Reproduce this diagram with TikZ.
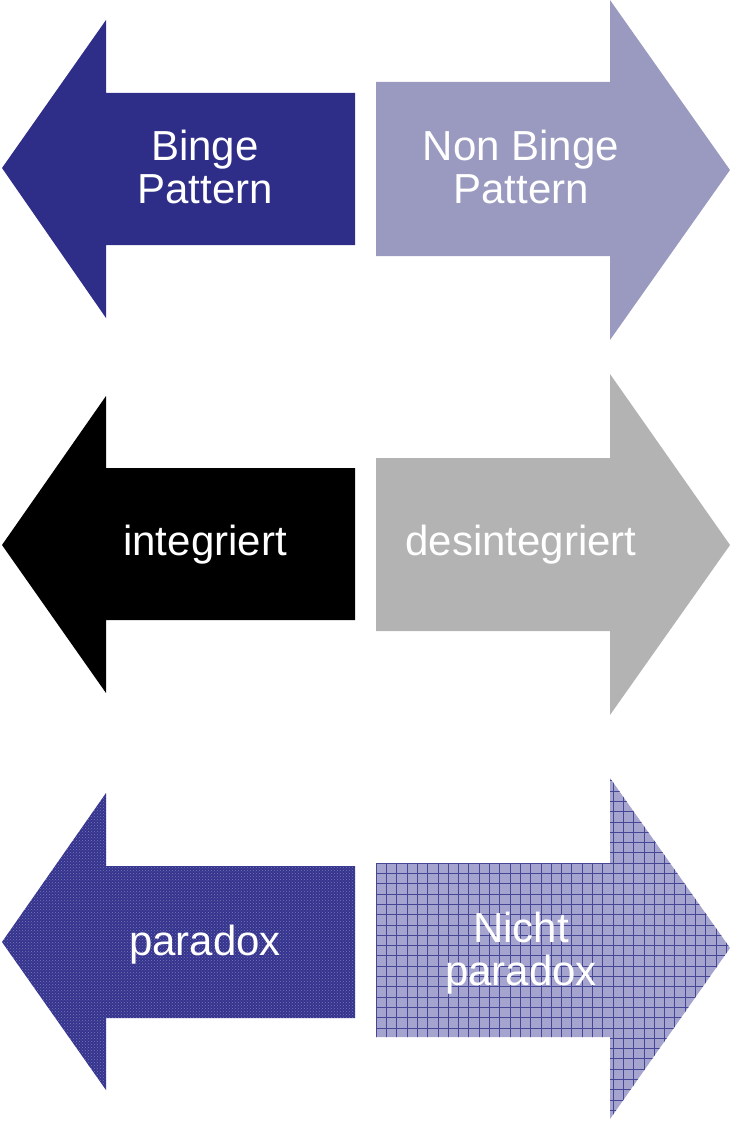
\documentclass[tikz,border=0pt]{standalone}
\usepackage{fontspec}
\setmainfont{Liberation Sans}
\usetikzlibrary{patterns}
\definecolor{navy}{RGB}{46,45,136}
\definecolor{lavender}{RGB}{154,154,192}
\definecolor{midgray}{RGB}{179,179,179}
\definecolor{navydot}{RGB}{52,51,142}
\definecolor{speck}{RGB}{120,120,180}
\definecolor{gridfill}{RGB}{164,164,206}
\definecolor{gridline}{RGB}{70,70,150}
\tikzset{
  label/.style={text=white, align=center, font=\fontsize{42}{43}\selectfont, inner sep=0pt},
}
% left-pointing arrow: tip y, head top, head bottom, shaft top, shaft bottom
\newcommand\leftarrowshape[5]{(2,#1) -- (106,#2) -- (106,#4) -- (355,#4) -- (355,#5) -- (106,#5) -- (106,#3) -- cycle}
\newcommand\rightarrowshape[5]{(730,#1) -- (610,#2) -- (610,#4) -- (376,#4) -- (376,#5) -- (610,#5) -- (610,#3) -- cycle}
\begin{document}
\begin{tikzpicture}[x=1pt,y=-1pt]
\useasboundingbox (0,0) rectangle (732,1121);
% first row
\fill[navy] \leftarrowshape{168}{20}{318}{93}{245};
\fill[lavender] \rightarrowshape{170}{0}{340}{82}{256};
\node[label] (binge) at (205,167) {Binge\\Pattern};
\node[label] (nonbinge) at (521,167) {Non Binge\\Pattern};
% second row
\fill[black] \leftarrowshape{545}{396}{693}{468}{620};
\fill[midgray] \rightarrowshape{545}{374}{715}{458}{631};
\node[label] (integ) at (205,545) {integriert};
\node[label] (desinteg) at (521,545) {desintegriert};
% third row
\fill[navydot] \leftarrowshape{942}{793}{1090}{866}{1018};
\path[pattern=crosshatch dots, pattern color=speck] \leftarrowshape{942}{793}{1090}{866}{1018};
\begin{scope}
  \clip \rightarrowshape{948}{778}{1119}{863}{1037};
  \fill[gridfill] (370,770) rectangle (732,1121);
  \draw[gridline, line width=0.5pt, step=10.3pt, shift={(376,863)}] (-10,-100) grid (370,270);
\end{scope}
\node[label] (parad) at (205,945) {paradox};
\node[label] (nichtparad) at (521,953) {Nicht\\paradox};
\end{tikzpicture}
\end{document}
